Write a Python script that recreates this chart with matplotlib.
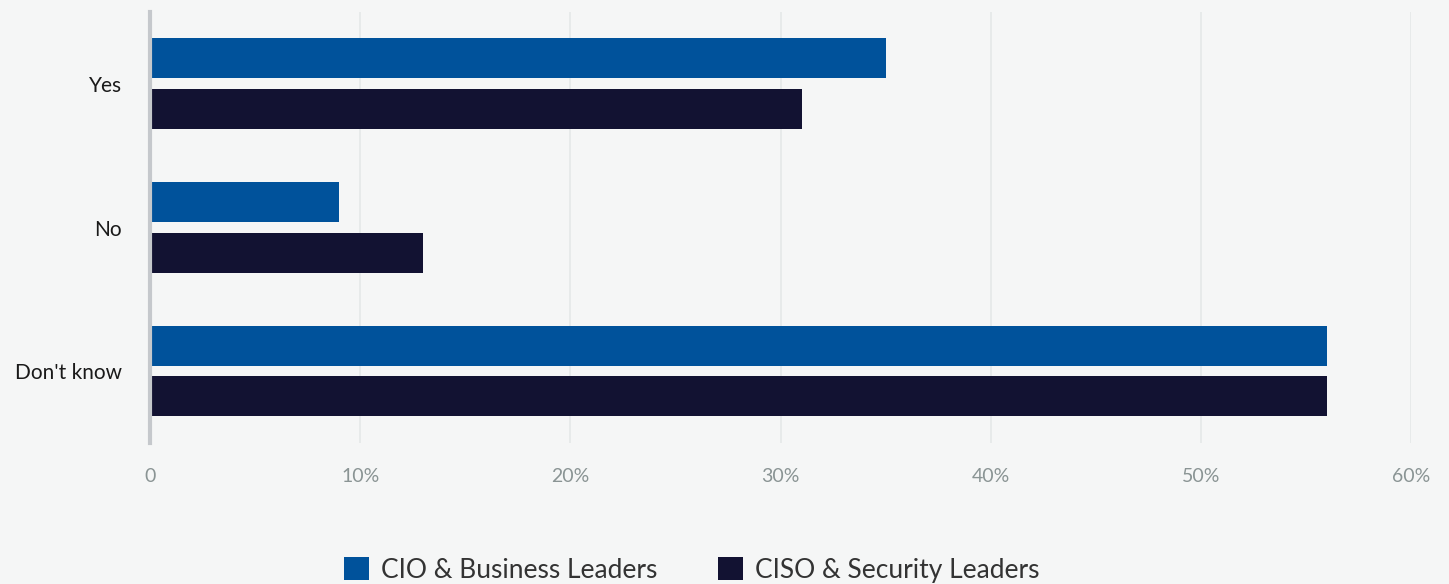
import matplotlib
matplotlib.use("Agg")
import matplotlib.pyplot as plt
from matplotlib.patches import Patch
import numpy as np

categories = ["Yes", "No", "Don't know"]
series_names = ["CIO & Business Leaders", "CISO & Security Leaders"]
cio_values = [35, 9, 56]
ciso_values = [31, 13, 56]
x_ticks = [0, 10, 20, 30, 40, 50, 60]
x_tick_labels = ["0", "10%", "20%", "30%", "40%", "50%", "60%"]

colors = ["#00529b", "#121232"]
bg = "#f5f6f6"

plt.rcParams['font.family'] = ['Lato', 'DejaVu Sans']

fig = plt.figure(figsize=(14.49, 5.84), dpi=100, facecolor=bg)
ax = fig.add_axes([150/1449, 1-443/584, (1411-150)/1449, (443-12)/584])
ax.set_facecolor(bg)

y = np.arange(len(categories))
h = 0.278
ax.barh(y - 0.178, cio_values, height=h, color=colors[0], zorder=3)
ax.barh(y + 0.176, ciso_values, height=h, color=colors[1], zorder=3)

ax.set_ylim(2.5, -0.5)
ax.set_xlim(0, 60)
ax.set_xticks(x_ticks)
ax.set_xticklabels(x_tick_labels, color="#8a9494", fontsize=14)
ax.set_yticks(y)
ax.set_yticklabels(categories, color="#1a1a1a", fontsize=15)
ax.tick_params(axis='x', length=0, pad=18)
ax.tick_params(axis='y', length=0, pad=20)
for lbl in ax.get_yticklabels():
    lbl.set_y(lbl.get_position()[1])
ax.grid(axis='x', color="#e5e8e8", linewidth=1.2, zorder=0)
for s in ["top", "right", "bottom"]:
    ax.spines[s].set_visible(False)
ax.spines["left"].set_color("#c5c8cc")
ax.spines["left"].set_linewidth(3)
ax.spines["left"].set_zorder(4)

handles = [Patch(facecolor=colors[0]), Patch(facecolor=colors[1])]
fig.legend(handles, series_names, loc="center", bbox_to_anchor=(692/1449, 1-570/584),
           ncol=2, frameon=False, fontsize=19, labelcolor="#333333",
           handlelength=0.95, handleheight=0.95, handletextpad=0.45, columnspacing=2.3)

fig.savefig("out.png", dpi=100, facecolor=bg)
